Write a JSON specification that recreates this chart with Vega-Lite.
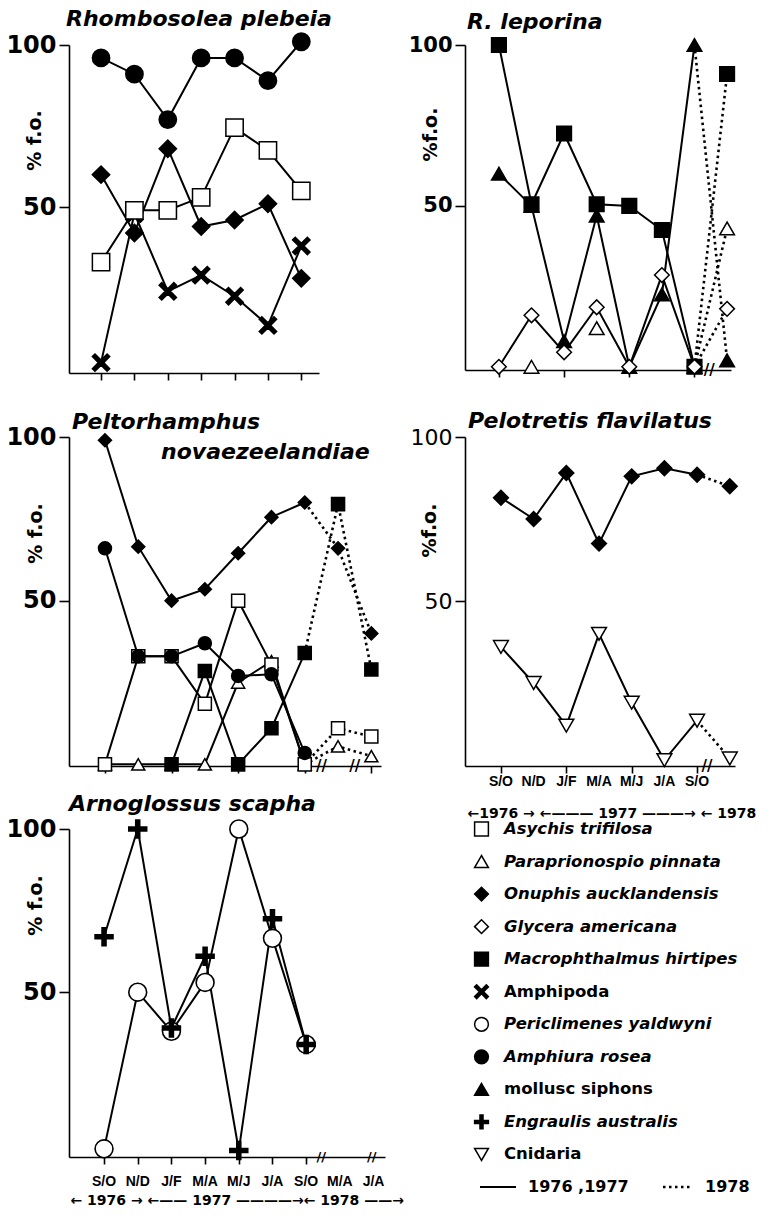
{
  "$schema": "https://vega.github.io/schema/vega-lite/v6.json",
  "background": "white",
  "padding": {"left": 5, "top": 8, "right": 5, "bottom": 5},
  "columns": 2,
  "spacing": {"row": 34, "column": 80},
  "bounds": "flush",
  "align": "all",
  "config": {
    "view": {"stroke": null},
    "axis": {"grid": false, "domainColor": "black", "domainWidth": 1.6, "tickColor": "black", "tickWidth": 1.6, "labelColor": "black", "titleColor": "black"},
    "point": {"opacity": 1}
  },
  "datasets": {
    "diet": [
      {"panel": "Rhombosolea plebeia", "species": "Amphipoda", "period": 0, "fo": 2},
      {"panel": "Rhombosolea plebeia", "species": "Amphipoda", "period": 1, "fo": 48},
      {"panel": "Rhombosolea plebeia", "species": "Amphipoda", "period": 2, "fo": 24},
      {"panel": "Rhombosolea plebeia", "species": "Amphipoda", "period": 3, "fo": 29},
      {"panel": "Rhombosolea plebeia", "species": "Amphipoda", "period": 4, "fo": 22.5},
      {"panel": "Rhombosolea plebeia", "species": "Amphipoda", "period": 5, "fo": 13.5},
      {"panel": "Rhombosolea plebeia", "species": "Amphipoda", "period": 6, "fo": 38},
      {"panel": "Rhombosolea plebeia", "species": "Asychis trifilosa", "period": 0, "fo": 33},
      {"panel": "Rhombosolea plebeia", "species": "Asychis trifilosa", "period": 1, "fo": 49},
      {"panel": "Rhombosolea plebeia", "species": "Asychis trifilosa", "period": 2, "fo": 49},
      {"panel": "Rhombosolea plebeia", "species": "Asychis trifilosa", "period": 3, "fo": 53},
      {"panel": "Rhombosolea plebeia", "species": "Asychis trifilosa", "period": 4, "fo": 74.5},
      {"panel": "Rhombosolea plebeia", "species": "Asychis trifilosa", "period": 5, "fo": 67.5},
      {"panel": "Rhombosolea plebeia", "species": "Asychis trifilosa", "period": 6, "fo": 55},
      {"panel": "Rhombosolea plebeia", "species": "Onuphis aucklandensis", "period": 0, "fo": 60},
      {"panel": "Rhombosolea plebeia", "species": "Onuphis aucklandensis", "period": 1, "fo": 42},
      {"panel": "Rhombosolea plebeia", "species": "Onuphis aucklandensis", "period": 2, "fo": 68},
      {"panel": "Rhombosolea plebeia", "species": "Onuphis aucklandensis", "period": 3, "fo": 44},
      {"panel": "Rhombosolea plebeia", "species": "Onuphis aucklandensis", "period": 4, "fo": 46},
      {"panel": "Rhombosolea plebeia", "species": "Onuphis aucklandensis", "period": 5, "fo": 51},
      {"panel": "Rhombosolea plebeia", "species": "Onuphis aucklandensis", "period": 6, "fo": 28},
      {"panel": "Rhombosolea plebeia", "species": "Amphiura rosea", "period": 0, "fo": 96},
      {"panel": "Rhombosolea plebeia", "species": "Amphiura rosea", "period": 1, "fo": 91},
      {"panel": "Rhombosolea plebeia", "species": "Amphiura rosea", "period": 2, "fo": 77},
      {"panel": "Rhombosolea plebeia", "species": "Amphiura rosea", "period": 3, "fo": 96},
      {"panel": "Rhombosolea plebeia", "species": "Amphiura rosea", "period": 4, "fo": 96},
      {"panel": "Rhombosolea plebeia", "species": "Amphiura rosea", "period": 5, "fo": 89},
      {"panel": "Rhombosolea plebeia", "species": "Amphiura rosea", "period": 6, "fo": 101},

      {"panel": "R. leporina", "species": "Paraprionospio pinnata", "period": 1, "fo": 0},
      {"panel": "R. leporina", "species": "Paraprionospio pinnata", "period": 3, "fo": 12},
      {"panel": "R. leporina", "species": "Paraprionospio pinnata", "period": 6, "fo": 0},
      {"panel": "R. leporina", "species": "Paraprionospio pinnata", "period": 7, "fo": 43},
      {"panel": "R. leporina", "species": "mollusc siphons", "period": 0, "fo": 60},
      {"panel": "R. leporina", "species": "mollusc siphons", "period": 1, "fo": 50},
      {"panel": "R. leporina", "species": "mollusc siphons", "period": 2, "fo": 8},
      {"panel": "R. leporina", "species": "mollusc siphons", "period": 3, "fo": 47},
      {"panel": "R. leporina", "species": "mollusc siphons", "period": 4, "fo": 0},
      {"panel": "R. leporina", "species": "mollusc siphons", "period": 5, "fo": 22.5},
      {"panel": "R. leporina", "species": "mollusc siphons", "period": 6, "fo": 100},
      {"panel": "R. leporina", "species": "mollusc siphons", "period": 7, "fo": 2},
      {"panel": "R. leporina", "species": "Macrophthalmus hirtipes", "period": 0, "fo": 100},
      {"panel": "R. leporina", "species": "Macrophthalmus hirtipes", "period": 1, "fo": 50.5},
      {"panel": "R. leporina", "species": "Macrophthalmus hirtipes", "period": 2, "fo": 72.5},
      {"panel": "R. leporina", "species": "Macrophthalmus hirtipes", "period": 3, "fo": 50.5},
      {"panel": "R. leporina", "species": "Macrophthalmus hirtipes", "period": 4, "fo": 50},
      {"panel": "R. leporina", "species": "Macrophthalmus hirtipes", "period": 5, "fo": 42.5},
      {"panel": "R. leporina", "species": "Macrophthalmus hirtipes", "period": 6, "fo": 0},
      {"panel": "R. leporina", "species": "Macrophthalmus hirtipes", "period": 7, "fo": 91},
      {"panel": "R. leporina", "species": "Glycera americana", "period": 0, "fo": 0},
      {"panel": "R. leporina", "species": "Glycera americana", "period": 1, "fo": 16},
      {"panel": "R. leporina", "species": "Glycera americana", "period": 2, "fo": 4.5},
      {"panel": "R. leporina", "species": "Glycera americana", "period": 3, "fo": 18.5},
      {"panel": "R. leporina", "species": "Glycera americana", "period": 4, "fo": 0},
      {"panel": "R. leporina", "species": "Glycera americana", "period": 5, "fo": 28.5},
      {"panel": "R. leporina", "species": "Glycera americana", "period": 6, "fo": 0},
      {"panel": "R. leporina", "species": "Glycera americana", "period": 7, "fo": 18},

      {"panel": "Peltorhamphus novaezeelandiae", "species": "Paraprionospio pinnata", "period": 0, "fo": 0},
      {"panel": "Peltorhamphus novaezeelandiae", "species": "Paraprionospio pinnata", "period": 1, "fo": 0},
      {"panel": "Peltorhamphus novaezeelandiae", "species": "Paraprionospio pinnata", "period": 2, "fo": 0},
      {"panel": "Peltorhamphus novaezeelandiae", "species": "Paraprionospio pinnata", "period": 3, "fo": 0},
      {"panel": "Peltorhamphus novaezeelandiae", "species": "Paraprionospio pinnata", "period": 4, "fo": 25},
      {"panel": "Peltorhamphus novaezeelandiae", "species": "Paraprionospio pinnata", "period": 5, "fo": 31.5},
      {"panel": "Peltorhamphus novaezeelandiae", "species": "Paraprionospio pinnata", "period": 6, "fo": 0},
      {"panel": "Peltorhamphus novaezeelandiae", "species": "Paraprionospio pinnata", "period": 7, "fo": 5.5},
      {"panel": "Peltorhamphus novaezeelandiae", "species": "Paraprionospio pinnata", "period": 8, "fo": 2.5},
      {"panel": "Peltorhamphus novaezeelandiae", "species": "Macrophthalmus hirtipes", "period": 2, "fo": 0},
      {"panel": "Peltorhamphus novaezeelandiae", "species": "Macrophthalmus hirtipes", "period": 3, "fo": 28.5},
      {"panel": "Peltorhamphus novaezeelandiae", "species": "Macrophthalmus hirtipes", "period": 4, "fo": 0},
      {"panel": "Peltorhamphus novaezeelandiae", "species": "Macrophthalmus hirtipes", "period": 5, "fo": 11},
      {"panel": "Peltorhamphus novaezeelandiae", "species": "Macrophthalmus hirtipes", "period": 6, "fo": 34},
      {"panel": "Peltorhamphus novaezeelandiae", "species": "Macrophthalmus hirtipes", "period": 7, "fo": 79.5},
      {"panel": "Peltorhamphus novaezeelandiae", "species": "Macrophthalmus hirtipes", "period": 8, "fo": 29},
      {"panel": "Peltorhamphus novaezeelandiae", "species": "Asychis trifilosa", "period": 0, "fo": 0},
      {"panel": "Peltorhamphus novaezeelandiae", "species": "Asychis trifilosa", "period": 1, "fo": 33},
      {"panel": "Peltorhamphus novaezeelandiae", "species": "Asychis trifilosa", "period": 2, "fo": 33},
      {"panel": "Peltorhamphus novaezeelandiae", "species": "Asychis trifilosa", "period": 3, "fo": 18.5},
      {"panel": "Peltorhamphus novaezeelandiae", "species": "Asychis trifilosa", "period": 4, "fo": 50},
      {"panel": "Peltorhamphus novaezeelandiae", "species": "Asychis trifilosa", "period": 5, "fo": 30.5},
      {"panel": "Peltorhamphus novaezeelandiae", "species": "Asychis trifilosa", "period": 6, "fo": 0},
      {"panel": "Peltorhamphus novaezeelandiae", "species": "Asychis trifilosa", "period": 7, "fo": 11},
      {"panel": "Peltorhamphus novaezeelandiae", "species": "Asychis trifilosa", "period": 8, "fo": 8.5},
      {"panel": "Peltorhamphus novaezeelandiae", "species": "Amphiura rosea", "period": 0, "fo": 66},
      {"panel": "Peltorhamphus novaezeelandiae", "species": "Amphiura rosea", "period": 1, "fo": 33},
      {"panel": "Peltorhamphus novaezeelandiae", "species": "Amphiura rosea", "period": 2, "fo": 33},
      {"panel": "Peltorhamphus novaezeelandiae", "species": "Amphiura rosea", "period": 3, "fo": 37},
      {"panel": "Peltorhamphus novaezeelandiae", "species": "Amphiura rosea", "period": 4, "fo": 27},
      {"panel": "Peltorhamphus novaezeelandiae", "species": "Amphiura rosea", "period": 5, "fo": 27.5},
      {"panel": "Peltorhamphus novaezeelandiae", "species": "Amphiura rosea", "period": 6, "fo": 3.5},
      {"panel": "Peltorhamphus novaezeelandiae", "species": "Onuphis aucklandensis", "period": 0, "fo": 99},
      {"panel": "Peltorhamphus novaezeelandiae", "species": "Onuphis aucklandensis", "period": 1, "fo": 66.5},
      {"panel": "Peltorhamphus novaezeelandiae", "species": "Onuphis aucklandensis", "period": 2, "fo": 50},
      {"panel": "Peltorhamphus novaezeelandiae", "species": "Onuphis aucklandensis", "period": 3, "fo": 53.5},
      {"panel": "Peltorhamphus novaezeelandiae", "species": "Onuphis aucklandensis", "period": 4, "fo": 64.5},
      {"panel": "Peltorhamphus novaezeelandiae", "species": "Onuphis aucklandensis", "period": 5, "fo": 75.5},
      {"panel": "Peltorhamphus novaezeelandiae", "species": "Onuphis aucklandensis", "period": 6, "fo": 80},
      {"panel": "Peltorhamphus novaezeelandiae", "species": "Onuphis aucklandensis", "period": 7, "fo": 66},
      {"panel": "Peltorhamphus novaezeelandiae", "species": "Onuphis aucklandensis", "period": 8, "fo": 40},

      {"panel": "Pelotretis flavilatus", "species": "Onuphis aucklandensis", "period": 0, "fo": 81.5},
      {"panel": "Pelotretis flavilatus", "species": "Onuphis aucklandensis", "period": 1, "fo": 75},
      {"panel": "Pelotretis flavilatus", "species": "Onuphis aucklandensis", "period": 2, "fo": 89},
      {"panel": "Pelotretis flavilatus", "species": "Onuphis aucklandensis", "period": 3, "fo": 67.5},
      {"panel": "Pelotretis flavilatus", "species": "Onuphis aucklandensis", "period": 4, "fo": 88},
      {"panel": "Pelotretis flavilatus", "species": "Onuphis aucklandensis", "period": 5, "fo": 90.5},
      {"panel": "Pelotretis flavilatus", "species": "Onuphis aucklandensis", "period": 6, "fo": 88.5},
      {"panel": "Pelotretis flavilatus", "species": "Onuphis aucklandensis", "period": 7, "fo": 85},
      {"panel": "Pelotretis flavilatus", "species": "Cnidaria", "period": 0, "fo": 36},
      {"panel": "Pelotretis flavilatus", "species": "Cnidaria", "period": 1, "fo": 25},
      {"panel": "Pelotretis flavilatus", "species": "Cnidaria", "period": 2, "fo": 12},
      {"panel": "Pelotretis flavilatus", "species": "Cnidaria", "period": 3, "fo": 40},
      {"panel": "Pelotretis flavilatus", "species": "Cnidaria", "period": 4, "fo": 19},
      {"panel": "Pelotretis flavilatus", "species": "Cnidaria", "period": 5, "fo": 1.5},
      {"panel": "Pelotretis flavilatus", "species": "Cnidaria", "period": 6, "fo": 13.5},
      {"panel": "Pelotretis flavilatus", "species": "Cnidaria", "period": 7, "fo": 2},

      {"panel": "Arnoglossus scapha", "species": "Periclimenes yaldwyni", "period": 0, "fo": 2},
      {"panel": "Arnoglossus scapha", "species": "Periclimenes yaldwyni", "period": 1, "fo": 50},
      {"panel": "Arnoglossus scapha", "species": "Periclimenes yaldwyni", "period": 2, "fo": 38},
      {"panel": "Arnoglossus scapha", "species": "Periclimenes yaldwyni", "period": 3, "fo": 53},
      {"panel": "Arnoglossus scapha", "species": "Periclimenes yaldwyni", "period": 4, "fo": 100},
      {"panel": "Arnoglossus scapha", "species": "Periclimenes yaldwyni", "period": 5, "fo": 66.5},
      {"panel": "Arnoglossus scapha", "species": "Periclimenes yaldwyni", "period": 6, "fo": 34},
      {"panel": "Arnoglossus scapha", "species": "Engraulis australis", "period": 0, "fo": 67},
      {"panel": "Arnoglossus scapha", "species": "Engraulis australis", "period": 1, "fo": 100},
      {"panel": "Arnoglossus scapha", "species": "Engraulis australis", "period": 2, "fo": 39},
      {"panel": "Arnoglossus scapha", "species": "Engraulis australis", "period": 3, "fo": 61},
      {"panel": "Arnoglossus scapha", "species": "Engraulis australis", "period": 4, "fo": 1.5},
      {"panel": "Arnoglossus scapha", "species": "Engraulis australis", "period": 5, "fo": 72.5},
      {"panel": "Arnoglossus scapha", "species": "Engraulis australis", "period": 6, "fo": 34}
    ],
    "months": [
      {"period": 0, "month": "S/O"},
      {"period": 1, "month": "N/D"},
      {"period": 2, "month": "J/F"},
      {"period": 3, "month": "M/A"},
      {"period": 4, "month": "M/J"},
      {"period": 5, "month": "J/A"},
      {"period": 6, "month": "S/O"},
      {"period": 7, "month": "M/A"},
      {"period": 8, "month": "J/A"}
    ],
    "legend": [
      {"species": "Asychis trifilosa"},
      {"species": "Paraprionospio pinnata"},
      {"species": "Onuphis aucklandensis"},
      {"species": "Glycera americana"},
      {"species": "Macrophthalmus hirtipes"},
      {"species": "Amphipoda"},
      {"species": "Periclimenes yaldwyni"},
      {"species": "Amphiura rosea"},
      {"species": "mollusc siphons"},
      {"species": "Engraulis australis"},
      {"species": "Cnidaria"}
    ]
  },
  "concat": [
    {
      "width": 250, "height": 328,
      "title": {"text": "Rhombosolea plebeia", "anchor": "start", "frame": "group", "dx": -3, "offset": -1, "font": "DejaVu Sans", "fontSize": 22, "fontWeight": "bold", "fontStyle": "italic", "color": "black"},
      "data": {"name": "diet"},
      "transform": [{"filter": "datum.panel === 'Rhombosolea plebeia'"}],
      "encoding": {
        "x": {"field": "period", "type": "quantitative", "scale": {"domain": [-0.96, 6.53], "nice": false, "zero": false},
              "axis": {"values": [0, 1, 2, 3, 4, 5, 6], "labels": false, "tickSize": 7, "title": null}},
        "y": {"field": "fo", "type": "quantitative", "scale": {"domain": [-1.2, 100], "nice": false, "zero": false},
              "axis": {"values": [50, 100], "tickSize": 10, "labelPadding": 3, "labelFont": "DejaVu Sans", "labelFontSize": 24, "labelFontWeight": "bold",
                       "title": "% f.o.", "titleX": -35, "titleY": 95, "titleAlign": "center", "titleBaseline": "middle", "titleFont": "DejaVu Sans", "titleFontSize": 19, "titleFontWeight": "bold"}},
        "detail": {"field": "species"}
      },
      "layer": [
        {"transform": [{"filter": "datum.period <= 6"}], "mark": {"type": "line", "color": "black", "strokeWidth": 2}},
        {"mark": {"type": "point", "filled": true, "stroke": "black", "strokeWidth": 1.5, "size": 300},
         "encoding": {
           "shape": {"field": "species", "type": "nominal", "legend": null, "scale": {"domain": ["Asychis trifilosa", "Paraprionospio pinnata", "Onuphis aucklandensis", "Glycera americana", "Macrophthalmus hirtipes", "Amphipoda", "Periclimenes yaldwyni", "Amphiura rosea", "mollusc siphons", "Engraulis australis", "Cnidaria"], "range": ["square", "triangle-up", "diamond", "diamond", "square", "M-1,-0.7L-0.7,-1L0,-0.3L0.7,-1L1,-0.7L0.3,0L1,0.7L0.7,1L0,0.3L-0.7,1L-1,0.7L-0.3,0Z", "circle", "circle", "triangle-up", "M-1,-0.22L-0.22,-0.22L-0.22,-1L0.22,-1L0.22,-0.22L1,-0.22L1,0.22L0.22,0.22L0.22,1L-0.22,1L-0.22,0.22L-1,0.22Z", "triangle-down"]}},
           "fill": {"field": "species", "type": "nominal", "legend": null, "scale": {"domain": ["Asychis trifilosa", "Paraprionospio pinnata", "Onuphis aucklandensis", "Glycera americana", "Macrophthalmus hirtipes", "Amphipoda", "Periclimenes yaldwyni", "Amphiura rosea", "mollusc siphons", "Engraulis australis", "Cnidaria"], "range": ["white", "white", "black", "white", "black", "black", "white", "black", "black", "black", "white"]}}
         }}
      ]
    },
    {
      "width": 266, "height": 325,
      "title": {"text": "R. leporina", "anchor": "start", "frame": "group", "dx": 2, "offset": 0, "font": "DejaVu Sans", "fontSize": 22, "fontWeight": "bold", "fontStyle": "italic", "color": "black"},
      "layer": [
        {
          "data": {"name": "diet"},
          "transform": [{"filter": "datum.panel === 'R. leporina'"}],
          "encoding": {
            "x": {"field": "period", "type": "quantitative", "scale": {"domain": [-1.04, 7.12], "nice": false, "zero": false},
                  "axis": {"values": [0, 1, 2, 3, 4, 5, 6, 7], "labels": false, "tickSize": 7, "title": null}},
            "y": {"field": "fo", "type": "quantitative", "scale": {"domain": [-1, 100], "nice": false, "zero": false},
                  "axis": {"values": [50, 100], "tickSize": 10, "labelPadding": 3, "labelFont": "DejaVu Sans", "labelFontSize": 21, "labelFontWeight": "bold",
                           "title": "%f.o.", "titleX": -35, "titleY": 89, "titleAlign": "center", "titleBaseline": "middle", "titleFont": "DejaVu Sans", "titleFontSize": 19, "titleFontWeight": "bold"}},
            "detail": {"field": "species"}
          },
          "layer": [
            {"transform": [{"filter": "datum.period <= 6 && datum.species !== 'Paraprionospio pinnata'"}], "mark": {"type": "line", "color": "black", "strokeWidth": 2}},
            {"transform": [{"filter": "datum.period >= 6"}], "mark": {"type": "line", "color": "black", "strokeWidth": 2.6, "strokeDash": [2.5, 3.5]}},
            {"mark": {"type": "point", "filled": true, "stroke": "black", "strokeWidth": 1.5, "size": 215},
             "encoding": {
               "shape": {"field": "species", "type": "nominal", "legend": null, "scale": {"domain": ["Asychis trifilosa", "Paraprionospio pinnata", "Onuphis aucklandensis", "Glycera americana", "Macrophthalmus hirtipes", "Amphipoda", "Periclimenes yaldwyni", "Amphiura rosea", "mollusc siphons", "Engraulis australis", "Cnidaria"], "range": ["square", "triangle-up", "diamond", "diamond", "square", "M-1,-0.7L-0.7,-1L0,-0.3L0.7,-1L1,-0.7L0.3,0L1,0.7L0.7,1L0,0.3L-0.7,1L-1,0.7L-0.3,0Z", "circle", "circle", "triangle-up", "M-1,-0.22L-0.22,-0.22L-0.22,-1L0.22,-1L0.22,-0.22L1,-0.22L1,0.22L0.22,0.22L0.22,1L-0.22,1L-0.22,0.22L-1,0.22Z", "triangle-down"]}},
               "fill": {"field": "species", "type": "nominal", "legend": null, "scale": {"domain": ["Asychis trifilosa", "Paraprionospio pinnata", "Onuphis aucklandensis", "Glycera americana", "Macrophthalmus hirtipes", "Amphipoda", "Periclimenes yaldwyni", "Amphiura rosea", "mollusc siphons", "Engraulis australis", "Cnidaria"], "range": ["white", "white", "black", "white", "black", "black", "white", "black", "black", "black", "white"]}}
             }}
          ]
        },
        {"data": {"values": [{"mark": "break"}]}, "mark": {"type": "text", "text": "//", "font": "DejaVu Sans", "fontSize": 15, "fontWeight": "bold", "baseline": "middle"},
         "encoding": {"x": {"datum": 6.45}, "y": {"datum": -1}}}
      ]
    },
    {
      "width": 312, "height": 329,
      "title": {"text": "Peltorhamphus", "anchor": "start", "frame": "group", "dx": 3, "offset": -9, "font": "DejaVu Sans", "fontSize": 22, "fontWeight": "bold", "fontStyle": "italic", "color": "black"},
      "layer": [
        {
          "data": {"name": "diet"},
          "transform": [{"filter": "datum.panel === 'Peltorhamphus novaezeelandiae'"}],
          "encoding": {
            "x": {"field": "period", "type": "quantitative", "scale": {"domain": [-1.08, 8.29], "nice": false, "zero": false},
                  "axis": {"values": [0, 1, 2, 3, 4, 5, 6, 7, 8], "labels": false, "tickSize": 7, "title": null}},
            "y": {"field": "fo", "type": "quantitative", "scale": {"domain": [-0.5, 100], "nice": false, "zero": false},
                  "axis": {"values": [50, 100], "tickSize": 10, "labelPadding": 3, "labelFont": "DejaVu Sans", "labelFontSize": 24, "labelFontWeight": "bold",
                           "title": "% f.o.", "titleX": -34, "titleY": 96, "titleAlign": "center", "titleBaseline": "middle", "titleFont": "DejaVu Sans", "titleFontSize": 19, "titleFontWeight": "bold"}},
            "detail": {"field": "species"}
          },
          "layer": [
            {"transform": [{"filter": "datum.period <= 6"}], "mark": {"type": "line", "color": "black", "strokeWidth": 2}},
            {"transform": [{"filter": "datum.period >= 6"}], "mark": {"type": "line", "color": "black", "strokeWidth": 2.6, "strokeDash": [2.5, 3.5]}},
            {"mark": {"type": "point", "filled": true, "stroke": "black", "strokeWidth": 1.5, "size": 170},
             "encoding": {
               "shape": {"field": "species", "type": "nominal", "legend": null, "scale": {"domain": ["Asychis trifilosa", "Paraprionospio pinnata", "Onuphis aucklandensis", "Glycera americana", "Macrophthalmus hirtipes", "Amphipoda", "Periclimenes yaldwyni", "Amphiura rosea", "mollusc siphons", "Engraulis australis", "Cnidaria"], "range": ["square", "triangle-up", "diamond", "diamond", "square", "M-1,-0.7L-0.7,-1L0,-0.3L0.7,-1L1,-0.7L0.3,0L1,0.7L0.7,1L0,0.3L-0.7,1L-1,0.7L-0.3,0Z", "circle", "circle", "triangle-up", "M-1,-0.22L-0.22,-0.22L-0.22,-1L0.22,-1L0.22,-0.22L1,-0.22L1,0.22L0.22,0.22L0.22,1L-0.22,1L-0.22,0.22L-1,0.22Z", "triangle-down"]}},
               "fill": {"field": "species", "type": "nominal", "legend": null, "scale": {"domain": ["Asychis trifilosa", "Paraprionospio pinnata", "Onuphis aucklandensis", "Glycera americana", "Macrophthalmus hirtipes", "Amphipoda", "Periclimenes yaldwyni", "Amphiura rosea", "mollusc siphons", "Engraulis australis", "Cnidaria"], "range": ["white", "white", "black", "white", "black", "black", "white", "black", "black", "black", "white"]}}
             }}
          ]
        },
        {"data": {"values": [{"mark": "break"}]}, "mark": {"type": "text", "text": "//", "font": "DejaVu Sans", "fontSize": 15, "fontWeight": "bold", "baseline": "middle"},
         "encoding": {"x": {"datum": 6.5}, "y": {"datum": -0.5}}},
        {"data": {"values": [{"mark": "break"}]}, "mark": {"type": "text", "text": "//", "font": "DejaVu Sans", "fontSize": 15, "fontWeight": "bold", "baseline": "middle"},
         "encoding": {"x": {"datum": 7.5}, "y": {"datum": -0.5}}},
        {"data": {"values": [{"mark": "subtitle"}]}, "mark": {"type": "text", "text": "novaezeelandiae", "align": "right", "baseline": "middle", "font": "DejaVu Sans", "fontSize": 22, "fontWeight": "bold", "fontStyle": "italic"},
         "encoding": {"x": {"datum": 7.95}, "y": {"datum": 95.5}}}
      ]
    },
    {
      "width": 270, "height": 329,
      "title": {"text": "Pelotretis flavilatus", "anchor": "start", "frame": "group", "dx": 3, "offset": -7, "font": "DejaVu Sans", "fontSize": 22, "fontWeight": "bold", "fontStyle": "italic", "color": "black"},
      "layer": [
        {
          "data": {"name": "diet"},
          "transform": [{"filter": "datum.panel === 'Pelotretis flavilatus'"}],
          "encoding": {
            "x": {"field": "period", "type": "quantitative", "scale": {"domain": [-1.1, 7.16], "nice": false, "zero": false},
                  "axis": {"values": [0, 1, 2, 3, 4, 5, 6, 7], "tickSize": 7, "labels": false,
                           "title": "←1976 → ←——— 1977 ———→ ← 1978", "titleX": 2, "titleY": 47, "titleAlign": "left", "titleBaseline": "middle", "titleFont": "DejaVu Sans", "titleFontSize": 14, "titleFontWeight": "bold"}},
            "y": {"field": "fo", "type": "quantitative", "scale": {"domain": [-0.3, 100], "nice": false, "zero": false},
                  "axis": {"values": [50, 100], "tickSize": 10, "labelPadding": 3, "labelFont": "DejaVu Sans", "labelFontSize": 22, "labelFontWeight": "normal",
                           "title": "%f.o.", "titleX": -36, "titleY": 93, "titleAlign": "center", "titleBaseline": "middle", "titleFont": "DejaVu Sans", "titleFontSize": 19, "titleFontWeight": "bold"}},
            "detail": {"field": "species"}
          },
          "layer": [
            {"transform": [{"filter": "datum.period <= 6"}], "mark": {"type": "line", "color": "black", "strokeWidth": 2}},
            {"transform": [{"filter": "datum.period >= 6"}], "mark": {"type": "line", "color": "black", "strokeWidth": 2.6, "strokeDash": [2.5, 3.5]}},
            {"mark": {"type": "point", "filled": true, "stroke": "black", "strokeWidth": 1.5, "size": 220},
             "encoding": {
               "shape": {"field": "species", "type": "nominal", "legend": null, "scale": {"domain": ["Asychis trifilosa", "Paraprionospio pinnata", "Onuphis aucklandensis", "Glycera americana", "Macrophthalmus hirtipes", "Amphipoda", "Periclimenes yaldwyni", "Amphiura rosea", "mollusc siphons", "Engraulis australis", "Cnidaria"], "range": ["square", "triangle-up", "diamond", "diamond", "square", "M-1,-0.7L-0.7,-1L0,-0.3L0.7,-1L1,-0.7L0.3,0L1,0.7L0.7,1L0,0.3L-0.7,1L-1,0.7L-0.3,0Z", "circle", "circle", "triangle-up", "M-1,-0.22L-0.22,-0.22L-0.22,-1L0.22,-1L0.22,-0.22L1,-0.22L1,0.22L0.22,0.22L0.22,1L-0.22,1L-0.22,0.22L-1,0.22Z", "triangle-down"]}},
               "fill": {"field": "species", "type": "nominal", "legend": null, "scale": {"domain": ["Asychis trifilosa", "Paraprionospio pinnata", "Onuphis aucklandensis", "Glycera americana", "Macrophthalmus hirtipes", "Amphipoda", "Periclimenes yaldwyni", "Amphiura rosea", "mollusc siphons", "Engraulis australis", "Cnidaria"], "range": ["white", "white", "black", "white", "black", "black", "white", "black", "black", "black", "white"]}}
             }}
          ]
        },
        {"data": {"name": "months"}, "transform": [{"filter": "datum.period <= 6"}],
         "mark": {"type": "text", "baseline": "middle", "font": "Liberation Sans", "fontSize": 14, "fontWeight": "bold", "color": "black"},
         "encoding": {"x": {"field": "period", "type": "quantitative"}, "y": {"datum": -5.3}, "text": {"field": "month"}}},
        {"data": {"values": [{"mark": "break"}]}, "mark": {"type": "text", "text": "//", "font": "DejaVu Sans", "fontSize": 15, "fontWeight": "bold", "baseline": "middle"},
         "encoding": {"x": {"datum": 6.3}, "y": {"datum": -0.3}}}
      ]
    },
    {
      "width": 316, "height": 328,
      "title": {"text": "Arnoglossus scapha", "anchor": "start", "frame": "group", "dx": 0, "offset": 1, "font": "DejaVu Sans", "fontSize": 22, "fontWeight": "bold", "fontStyle": "italic", "color": "black"},
      "layer": [
        {
          "data": {"name": "diet"},
          "transform": [{"filter": "datum.panel === 'Arnoglossus scapha'"}],
          "encoding": {
            "x": {"field": "period", "type": "quantitative", "scale": {"domain": [-1.04, 8.34], "nice": false, "zero": false},
                  "axis": {"values": [0, 1, 2, 3, 4, 5, 6], "tickSize": 7, "labels": false,
                           "title": "← 1976 → ←—— 1977 ————→← 1978 ——→", "titleX": 1, "titleY": 43, "titleAlign": "left", "titleBaseline": "middle", "titleFont": "DejaVu Sans", "titleFontSize": 14, "titleFontWeight": "bold"}},
            "y": {"field": "fo", "type": "quantitative", "scale": {"domain": [-0.5, 100], "nice": false, "zero": false},
                  "axis": {"values": [50, 100], "tickSize": 10, "labelPadding": 3, "labelFont": "DejaVu Sans", "labelFontSize": 24, "labelFontWeight": "bold",
                           "title": "% f.o.", "titleX": -34, "titleY": 76, "titleAlign": "center", "titleBaseline": "middle", "titleFont": "DejaVu Sans", "titleFontSize": 19, "titleFontWeight": "bold"}},
            "detail": {"field": "species"}
          },
          "layer": [
            {"transform": [{"filter": "datum.period <= 6"}], "mark": {"type": "line", "color": "black", "strokeWidth": 2}},
            {"mark": {"type": "point", "filled": true, "stroke": "black", "strokeWidth": 1.6, "size": 320},
             "encoding": {
               "shape": {"field": "species", "type": "nominal", "legend": null, "scale": {"domain": ["Asychis trifilosa", "Paraprionospio pinnata", "Onuphis aucklandensis", "Glycera americana", "Macrophthalmus hirtipes", "Amphipoda", "Periclimenes yaldwyni", "Amphiura rosea", "mollusc siphons", "Engraulis australis", "Cnidaria"], "range": ["square", "triangle-up", "diamond", "diamond", "square", "M-1,-0.7L-0.7,-1L0,-0.3L0.7,-1L1,-0.7L0.3,0L1,0.7L0.7,1L0,0.3L-0.7,1L-1,0.7L-0.3,0Z", "circle", "circle", "triangle-up", "M-1,-0.22L-0.22,-0.22L-0.22,-1L0.22,-1L0.22,-0.22L1,-0.22L1,0.22L0.22,0.22L0.22,1L-0.22,1L-0.22,0.22L-1,0.22Z", "triangle-down"]}},
               "fill": {"field": "species", "type": "nominal", "legend": null, "scale": {"domain": ["Asychis trifilosa", "Paraprionospio pinnata", "Onuphis aucklandensis", "Glycera americana", "Macrophthalmus hirtipes", "Amphipoda", "Periclimenes yaldwyni", "Amphiura rosea", "mollusc siphons", "Engraulis australis", "Cnidaria"], "range": ["white", "white", "black", "white", "black", "black", "white", "black", "black", "black", "white"]}}
             }}
          ]
        },
        {"data": {"name": "months"},
         "mark": {"type": "text", "baseline": "middle", "font": "Liberation Sans", "fontSize": 14, "fontWeight": "bold", "color": "black"},
         "encoding": {"x": {"field": "period", "type": "quantitative"}, "y": {"datum": -8.1}, "text": {"field": "month"}}},
        {"data": {"values": [{"mark": "break"}]}, "mark": {"type": "text", "text": "//", "font": "DejaVu Sans", "fontSize": 13, "fontWeight": "bold", "baseline": "middle"},
         "encoding": {"x": {"datum": 6.45}, "y": {"datum": -0.5}}},
        {"data": {"values": [{"mark": "break"}]}, "mark": {"type": "text", "text": "//", "font": "DejaVu Sans", "fontSize": 13, "fontWeight": "bold", "baseline": "middle"},
         "encoding": {"x": {"datum": 7.95}, "y": {"datum": -0.5}}}
      ]
    },
    {
      "width": 300, "height": 358,
      "layer": [
        {
          "data": {"name": "legend"},
          "encoding": {
            "y": {"field": "species", "type": "nominal", "scale": {"type": "point", "padding": 0, "domain": ["Asychis trifilosa", "Paraprionospio pinnata", "Onuphis aucklandensis", "Glycera americana", "Macrophthalmus hirtipes", "Amphipoda", "Periclimenes yaldwyni", "Amphiura rosea", "mollusc siphons", "Engraulis australis", "Cnidaria", "lines"]}, "axis": null}
          },
          "layer": [
            {"mark": {"type": "point", "filled": true, "stroke": "black", "strokeWidth": 1.5, "size": 190},
             "encoding": {
               "x": {"datum": 5.5, "type": "quantitative", "scale": {"domain": [0, 100], "nice": false, "zero": false}, "axis": null},
               "shape": {"field": "species", "type": "nominal", "legend": null, "scale": {"domain": ["Asychis trifilosa", "Paraprionospio pinnata", "Onuphis aucklandensis", "Glycera americana", "Macrophthalmus hirtipes", "Amphipoda", "Periclimenes yaldwyni", "Amphiura rosea", "mollusc siphons", "Engraulis australis", "Cnidaria"], "range": ["square", "triangle-up", "diamond", "diamond", "square", "M-1,-0.7L-0.7,-1L0,-0.3L0.7,-1L1,-0.7L0.3,0L1,0.7L0.7,1L0,0.3L-0.7,1L-1,0.7L-0.3,0Z", "circle", "circle", "triangle-up", "M-1,-0.22L-0.22,-0.22L-0.22,-1L0.22,-1L0.22,-0.22L1,-0.22L1,0.22L0.22,0.22L0.22,1L-0.22,1L-0.22,0.22L-1,0.22Z", "triangle-down"]}},
               "fill": {"field": "species", "type": "nominal", "legend": null, "scale": {"domain": ["Asychis trifilosa", "Paraprionospio pinnata", "Onuphis aucklandensis", "Glycera americana", "Macrophthalmus hirtipes", "Amphipoda", "Periclimenes yaldwyni", "Amphiura rosea", "mollusc siphons", "Engraulis australis", "Cnidaria"], "range": ["white", "white", "black", "white", "black", "black", "white", "black", "black", "black", "white"]}}
             }},
            {"transform": [{"filter": {"not": {"field": "species", "oneOf": ["Amphipoda", "mollusc siphons", "Cnidaria"]}}}],
             "mark": {"type": "text", "align": "left", "baseline": "middle", "font": "DejaVu Sans", "fontSize": 16.5, "fontWeight": "bold", "fontStyle": "italic", "color": "black"},
             "encoding": {"x": {"datum": 13}, "text": {"field": "species"}}},
            {"transform": [{"filter": {"field": "species", "oneOf": ["Amphipoda", "mollusc siphons", "Cnidaria"]}}],
             "mark": {"type": "text", "align": "left", "baseline": "middle", "font": "DejaVu Sans", "fontSize": 16.5, "fontWeight": "bold", "color": "black"},
             "encoding": {"x": {"datum": 13}, "text": {"field": "species"}}}
          ]
        },
        {"data": {"values": [{"mark": "solid"}]}, "mark": {"type": "rule", "color": "black", "strokeWidth": 2},
         "encoding": {"x": {"datum": 5}, "x2": {"datum": 17}, "y": {"datum": "lines"}}},
        {"data": {"values": [{"mark": "dotted"}]}, "mark": {"type": "rule", "color": "black", "strokeWidth": 2.6, "strokeDash": [2.5, 3.5]},
         "encoding": {"x": {"datum": 66}, "x2": {"datum": 76}, "y": {"datum": "lines"}}},
        {"data": {"values": [{"mark": "t1"}]}, "mark": {"type": "text", "text": "1976 ,1977", "align": "left", "baseline": "middle", "font": "DejaVu Sans", "fontSize": 16, "fontWeight": "bold"},
         "encoding": {"x": {"datum": 21}, "y": {"datum": "lines"}}},
        {"data": {"values": [{"mark": "t2"}]}, "mark": {"type": "text", "text": "1978", "align": "left", "baseline": "middle", "font": "DejaVu Sans", "fontSize": 16, "fontWeight": "bold"},
         "encoding": {"x": {"datum": 80}, "y": {"datum": "lines"}}}
      ]
    }
  ]
}
